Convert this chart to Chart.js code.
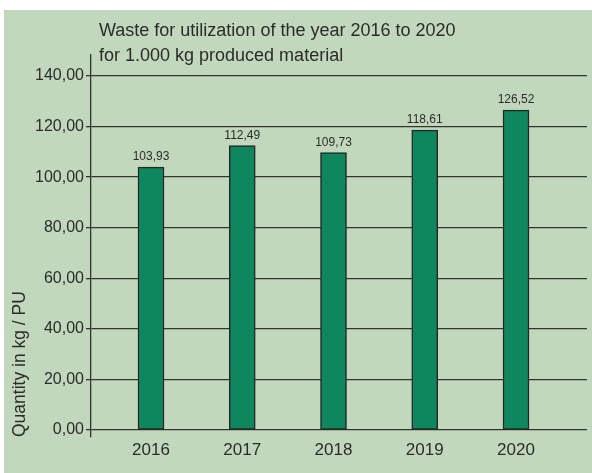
<!DOCTYPE html>
<html>
<head>
<meta charset="utf-8">
<script src="https://cdn.jsdelivr.net/npm/chart.js@4.4.0/dist/chart.umd.min.js"></script>
<style>
  body { margin: 0; background: #fff; }
  #panel { position: absolute; left: 4px; top: 10px; width: 588px; height: 463px; background: #c2d8bc; }
</style>
</head>
<body>
<div id="panel"><canvas id="chart" width="588" height="463"></canvas></div>
<script>
// Data
const years = [2016, 2017, 2018, 2019, 2020];
const quantities = [103.93, 112.49, 109.73, 118.61, 126.52];
const yTicks = [0, 20, 40, 60, 80, 100, 120, 140];
const titleLines = ['Waste for utilization of the year 2016 to 2020', 'for 1.000 kg produced material'];
const yTitle = 'Quantity in kg / PU';

const textColor = '#2b2b2b';
const lineColor = '#333333';
const fontFamily = '"Liberation Sans", Arial, sans-serif';
const fmt = v => v.toFixed(2).replace('.', ',');

// title drawn at the top left of the plot
const titlePlugin = {
    id: 'titleLines',
    afterDraw(chart){
        const ctx = chart.ctx;
        ctx.save();
        ctx.font = '18px ' + fontFamily;
        ctx.fillStyle = textColor;
        ctx.textAlign = 'left';
        ctx.textBaseline = 'alphabetic';
        titleLines.forEach((t,i)=>{
            ctx.fillText(t, chart.chartArea.left + 8, 26 + i*25);
        });
        ctx.restore();
    }
};

// value labels above bars
const valueLabels = {
    id: 'valueLabels',
    afterDatasetsDraw(chart){
        const ctx = chart.ctx;
        const meta = chart.getDatasetMeta(0);
        ctx.save();
        ctx.font = '12px ' + fontFamily;
        ctx.fillStyle = textColor;
        ctx.textAlign = 'center';
        ctx.textBaseline = 'alphabetic';
        meta.data.forEach((bar,i)=>{
            ctx.fillText(fmt(quantities[i]), bar.x, bar.y - 7);
        });
        ctx.restore();
    }
};

new Chart(document.getElementById('chart'), {
    type: 'bar',
    data: {
        datasets: [{
            data: years.map((y,i)=>({x: y, y: quantities[i]})),
            backgroundColor: '#0f875e',
            borderColor: '#262626',
            borderWidth: 1.5,
            borderSkipped: false,
            barThickness: 26
        }]
    },
    options: {
        responsive: false,
        animation: false,
        layout: { padding: { top: 45, right: 5, left: 0, bottom: 0 } },
        plugins: { legend: { display: false }, tooltip: { enabled: false } },
        scales: {
            x: {
                type: 'linear',
                offset: false,
                min: 2015.3425,
                max: 2020.778,
                afterBuildTicks: s => { s.ticks = years.map(v=>({value: v})); },
                afterFit: s => { s.height = 36; },
                grid: { display: false, drawTicks: false },
                border: { display: false },
                ticks: {
                    callback: v => String(v),
                    color: textColor,
                    padding: 3,
                    font: { family: fontFamily, size: 17 }
                }
            },
            y: {
                min: -2.77,
                max: 148.3,
                afterBuildTicks: s => { s.ticks = yTicks.map(v=>({value: v})); },
                afterFit: s => { s.width = 87; },
                grid: { color: lineColor, lineWidth: 1.3, tickLength: 5, tickColor: lineColor },
                border: { display: true, color: lineColor, width: 1.3 },
                ticks: {
                    callback: v => fmt(v),
                    color: textColor,
                    padding: 2,
                    font: { family: fontFamily, size: 16 }
                },
                title: {
                    display: true,
                    text: yTitle,
                    align: 'start',
                    color: textColor,
                    padding: { top: 5.5, bottom: 0 },
                    font: { family: fontFamily, size: 17.5 }
                }
            }
        }
    },
    plugins: [titlePlugin, valueLabels]
});
</script>
</body>
</html>
